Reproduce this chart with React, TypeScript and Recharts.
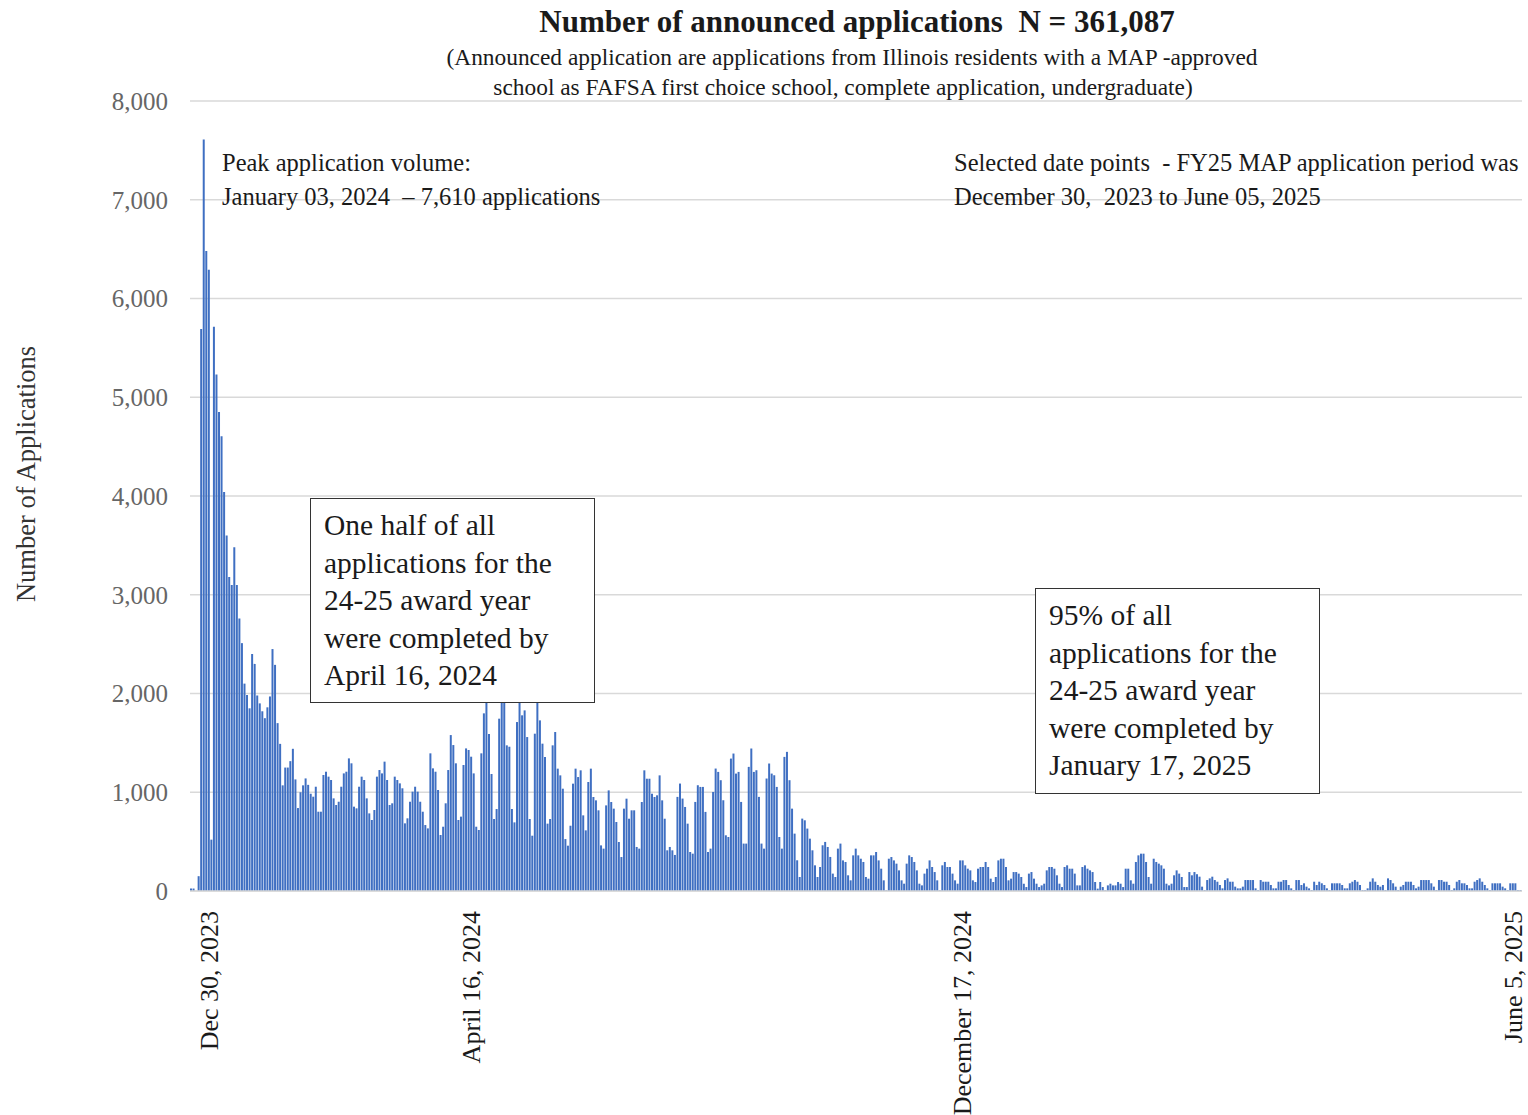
import React from 'react'
import { BarChart, Bar, XAxis, YAxis, CartesianGrid } from 'recharts'

// daily announced applications, Dec 30 2023 -> Jun 5 2025
const janToFeb = [
  25, 25, 0, 150, 5690, 7610, 6480, 6290, 520, 5715, 5230, 4850, 4605, 4040, 3600, 3180,
  3100, 3480, 3100, 2760, 2510, 2100, 1985, 1850, 2400, 2300, 1980, 1900, 1820, 1750, 1860,
  1970, 2450, 2290, 1700, 1490, 1070, 1250, 1250, 1315, 1440, 1130, 840, 1000, 1070, 1140,
  1075, 985,
]
const febToApr = [
  955, 1056, 803, 803, 1175, 1208, 1158, 1124, 938, 871, 904, 1056, 1191, 1208, 1343, 1293,
  854, 837, 1056, 1158, 1124, 938, 786, 719, 820, 1158, 1225, 1191, 1310, 1124, 871, 888,
  1158, 1124, 1090, 1040, 685, 736, 904, 1006, 1056, 1006, 904, 803, 668, 634, 1394, 1242,
  1208, 1023, 567, 651, 888, 1225, 1579, 1478, 1293, 719, 753, 1276, 1444, 1428, 1360, 1191,
  651, 618, 1394, 1799, 2086,
]
const aprToJun = [
  1590, 1185, 729, 830, 1745, 2248, 1964, 1475, 1461, 830, 695, 1711, 2416, 1779, 1829, 1559,
  729, 560, 1593, 2113, 1728, 1492, 1357, 682, 729, 1475, 1610, 1239, 1171, 1036, 526, 459,
  661, 1087, 1239, 1154, 1222, 766, 614, 1104, 1239, 952, 918, 817, 462, 429, 867, 1019, 901,
  834, 699, 496, 344, 834, 935, 732, 817, 817, 446, 429, 901, 1222, 1137, 1137, 985, 952, 969,
  1171, 918, 732,
]
const junToAug = [
  412, 446, 412, 365, 953, 1088, 936, 851, 682, 395, 378, 902, 1071, 1054, 1054, 801, 395, 429,
  1003, 1240, 1206, 1122, 919, 564, 547, 1341, 1392, 1189, 1206, 902, 480, 480, 1257, 1443,
  1206, 1223, 953, 480, 429, 1139, 1291, 1189, 1172, 1054, 547, 429, 1358, 1409, 1122, 834,
  581, 311, 142, 733, 716, 632, 530, 412, 260, 142, 243, 463, 497, 446, 345, 176, 142, 429, 480,
]
const augToNov = [
  310, 294, 159, 108, 361, 429, 361, 327, 294, 142, 125, 361, 361, 395, 310, 226, 108, 7, 327,
  344, 310, 277, 209, 108, 74, 277, 361, 344, 294, 209, 74, 57, 176, 226, 310, 243, 192, 108, 7,
  260, 294, 243, 243, 176, 108, 74, 310, 310, 260, 226, 209, 108, 91, 226, 243, 243, 294, 243,
  125, 91, 142, 310, 327, 327, 243, 108, 125, 192, 192,
]
const novToJan = [
  176, 142, 74, 40, 176, 192, 125, 74, 40, 57, 74, 209, 243, 243, 226, 159, 74, 40, 243, 260,
  226, 226, 176, 57, 57, 243, 260, 226, 209, 192, 91, 24, 91, 40, 7, 57, 74, 57, 57, 91, 74, 40,
  226, 226, 108, 74, 294, 361, 378, 378, 294, 142, 74, 327, 294, 277, 260, 226, 74, 57, 74, 159,
  209, 176, 142, 40, 40, 192, 159, 192, 170,
]
const janToApr = [
  145, 44, 10, 111, 128, 145, 111, 94, 61, 27, 111, 128, 94, 94, 44, 27, 27, 44, 111, 111, 111,
  111, 27, 10, 111, 94, 94, 94, 61, 27, 27, 94, 94, 111, 111, 61, 27, 10, 111, 111, 61, 78, 44,
  27, 10, 94, 61, 94, 78, 61, 27, 10, 78, 78, 78, 78, 61, 27, 27, 78, 94, 111, 94, 61, 10, 10,
  27, 94, 128,
]
const aprToJun25 = [
  94, 61, 44, 61, 10, 128, 111, 78, 44, 10, 44, 61, 94, 94, 94, 61, 27, 44, 111, 111, 111, 111,
  78, 44, 10, 111, 111, 94, 94, 61, 10, 27, 94, 111, 78, 78, 61, 27, 27, 94, 111, 128, 94, 61,
  27, 10, 78, 78, 78, 78, 44, 27, 10, 78, 78, 78, 10, 10,
]

const values = [
  ...janToFeb, ...febToApr, ...aprToJun, ...junToAug,
  ...augToNov, ...novToJan, ...janToApr, ...aprToJun25,
]

const tickDays = [7, 110, 303, 519]
const tickLabels = ['Dec 30, 2023', 'April 16, 2024', 'December 17, 2024', 'June 5, 2025']
const yTicks = [0, 1000, 2000, 3000, 4000, 5000, 6000, 7000, 8000]

const chartData = values.map((v, i) => ({ day: i, value: v }))

const serif = '"Liberation Serif", "Times New Roman", serif'

function DateTick(props: any) {
  const { x, y, payload } = props
  const idx = tickDays.indexOf(payload.value)
  return (
    <text
      x={x}
      y={y}
      transform={`rotate(-90 ${x} ${y})`}
      textAnchor="end"
      dominantBaseline="central"
      fontFamily={serif}
      fontSize={26}
      fill="#1a1a1a"
    >
      {idx >= 0 ? tickLabels[idx] : ''}
    </text>
  )
}

const textStyle: React.CSSProperties = {
  position: 'absolute',
  fontFamily: serif,
  whiteSpace: 'nowrap',
  color: '#1a1a1a',
}

const boxStyle: React.CSSProperties = {
  position: 'absolute',
  border: '1.5px solid #333',
  background: '#fff',
  fontFamily: serif,
  fontSize: 29.5,
  lineHeight: '37.5px',
  color: '#1a1a1a',
  padding: '8px 0 0 13px',
  boxSizing: 'border-box',
  whiteSpace: 'nowrap',
}

export default function App() {
  return (
    <div style={{ position: 'absolute', left: 0, top: 0, width: 1528, height: 1115, background: '#fff' }}>
      <BarChart
        width={1528}
        height={1115}
        data={chartData}
        margin={{ top: 101, right: 6, left: 0, bottom: 0 }}
      >
        <CartesianGrid vertical={false} stroke="#d9d9d9" strokeWidth={1.5} />
        <XAxis
          dataKey="day"
          type="category"
          ticks={tickDays}
          interval={0}
          height={224}
          tickLine={false}
          tickSize={0}
          tickMargin={20}
          axisLine={{ stroke: '#d9d9d9', strokeWidth: 1.5 }}
          tick={<DateTick />}
        />
        <YAxis
          width={190}
          domain={[0, 8000]}
          ticks={yTicks}
          interval={0}
          axisLine={false}
          tickLine={false}
          tickSize={0}
          tickMargin={22}
          tickFormatter={(v: number) => v.toLocaleString('en-US')}
          tick={{ fill: '#666', fontSize: 25, fontFamily: serif }}
        />
        <Bar dataKey="value" fill="#3f6fc2" barSize={2} isAnimationActive={false} />
      </BarChart>

      <div style={{ ...textStyle, left: 857, top: 5, transform: 'translateX(-50%)', fontSize: 31, fontWeight: 'bold', lineHeight: '34px' }}>
        Number of announced applications&nbsp; N = 361,087
      </div>
      <div style={{ ...textStyle, left: 852, top: 43, transform: 'translateX(-50%)', fontSize: 23.4, lineHeight: '28px' }}>
        (Announced application are applications from Illinois residents with a MAP -approved
      </div>
      <div style={{ ...textStyle, left: 843, top: 73, transform: 'translateX(-50%)', fontSize: 23.4, lineHeight: '28px' }}>
        school as FAFSA first choice school, complete application, undergraduate)
      </div>

      <div style={{ ...textStyle, left: 222, top: 146, fontSize: 24.5, lineHeight: '34px' }}>
        Peak application volume:
        <br />
        January 03, 2024 &nbsp;– 7,610 applications
      </div>
      <div style={{ ...textStyle, left: 954, top: 146, fontSize: 24.5, lineHeight: '34px' }}>
        Selected date points &nbsp;- FY25 MAP application period was
        <br />
        December 30, &nbsp;2023 to June 05, 2025
      </div>

      <div style={{ ...boxStyle, left: 310, top: 498, width: 285, height: 205 }}>
        One half of all
        <br />
        applications for the
        <br />
        24-25 award year
        <br />
        were completed by
        <br />
        April 16, 2024
      </div>
      <div style={{ ...boxStyle, left: 1035, top: 588, width: 285, height: 206 }}>
        95% of all
        <br />
        applications for the
        <br />
        24-25 award year
        <br />
        were completed by
        <br />
        January 17, 2025
      </div>

      <div
        style={{
          ...textStyle,
          left: 26,
          top: 474,
          transform: 'translate(-50%, -50%) rotate(-90deg)',
          fontSize: 26.5,
          color: '#333',
        }}
      >
        Number of Applications
      </div>
    </div>
  )
}
